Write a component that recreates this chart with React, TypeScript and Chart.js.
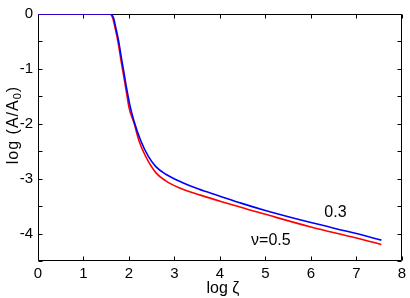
import React, { useEffect, useRef } from "react";
import { Chart, registerables } from "chart.js";

Chart.register(...registerables);

// Series: nu = 0.3 (blue)
const blueX = [0, 1.0, 1.6, 1.63, 1.66, 1.71, 1.77, 1.83, 1.89, 1.95, 2.02, 2.11, 2.26, 2.43, 2.59, 2.81, 3.17, 3.53, 3.97, 4.48, 5.0, 6.0, 7.0, 7.55];
const blueY = [0, 0, 0, -0.02, -0.07, -0.25, -0.48, -0.78, -1.07, -1.36, -1.66, -1.95, -2.31, -2.60, -2.78, -2.92, -3.07, -3.19, -3.31, -3.45, -3.58, -3.80, -4.0, -4.12];
// Series: nu = 0.5 (red)
const redX = [0, 1.0, 1.59, 1.62, 1.65, 1.70, 1.76, 1.82, 1.88, 1.94, 2.0, 2.12, 2.22, 2.37, 2.59, 2.81, 3.17, 3.57, 4.04, 4.62, 5.0, 6.0, 7.0, 7.55];
const redY = [0, 0, 0, -0.03, -0.09, -0.27, -0.51, -0.82, -1.11, -1.40, -1.70, -2.01, -2.31, -2.60, -2.89, -3.04, -3.19, -3.30, -3.42, -3.56, -3.65, -3.88, -4.08, -4.20];

// Axis ranges and ticks
const xMin = 0, xMax = 8, xStep = 1;
const yMin = -4.5, yMax = 0, yStep = 0.5;

// Text labels
const xTitle = "log ζ";
const yTitleMain = "log (A/A";
const yTitleSub = "0";
const yTitleEnd = ")";
const annoText = ["0.3", "ν=0.5"];
const annoX = [6.54, 5.12];
const annoY = [-3.62, -4.13];

const FONT = "'Liberation Sans', Arial, Helvetica, sans-serif";
const W = 410, H = 298;

export default function App() {
  const ref = useRef<HTMLCanvasElement | null>(null);
  useEffect(() => {
    if (!ref.current) return;
    const framePlugin = {
      id: "frame",
      beforeDatasetsDraw(chart: any) {
        const { ctx, chartArea: a, scales } = chart;
        const L = Math.round(a.left) + 0.5, R = Math.round(a.right) - 0.5;
        const T = Math.round(a.top) + 0.5, B = Math.round(a.bottom) - 0.5;
        ctx.save();
        ctx.strokeStyle = "#000";
        ctx.lineWidth = 1;
        ctx.beginPath();
        ctx.rect(L, T, R - L, B - T);
        const tl = 4;
        for (let v = xMin; v <= xMax + 1e-9; v += xStep) {
          const px = Math.round(scales.x.getPixelForValue(v)) + 0.5;
          ctx.moveTo(px, B); ctx.lineTo(px, B - tl);
          ctx.moveTo(px, T); ctx.lineTo(px, T + tl);
        }
        for (let v = yMin; v <= yMax + 1e-9; v += yStep) {
          const py = Math.round(scales.y.getPixelForValue(v)) + 0.5;
          ctx.moveTo(L, py); ctx.lineTo(L + tl, py);
          ctx.moveTo(R, py); ctx.lineTo(R - tl, py);
        }
        ctx.stroke();
        ctx.restore();
      },
      afterDraw(chart: any) {
        const { ctx, chartArea: a, scales } = chart;
        ctx.save();
        ctx.fillStyle = "#000";
        ctx.font = `16px ${FONT}`;
        // x title
        ctx.textAlign = "center";
        ctx.textBaseline = "alphabetic";
        ctx.fillText(xTitle, (a.left + a.right) / 2 + 3, 293);
        // annotations
        ctx.textBaseline = "middle";
        for (let i = 0; i < annoText.length; i++) {
          ctx.fillText(annoText[i], scales.x.getPixelForValue(annoX[i]), scales.y.getPixelForValue(annoY[i]));
        }
        // y title (rotated)
        ctx.translate(18, 125);
        ctx.rotate(-Math.PI / 2);
        ctx.textAlign = "left";
        ctx.textBaseline = "alphabetic";
        (ctx as any).letterSpacing = "1px";
        ctx.font = `16px ${FONT}`;
        const w1 = ctx.measureText(yTitleMain).width;
        ctx.font = `11px ${FONT}`;
        const w2 = ctx.measureText(yTitleSub).width;
        ctx.font = `16px ${FONT}`;
        const w3 = ctx.measureText(yTitleEnd).width;
        const total = w1 + w2 + w3;
        let x0 = -total / 2;
        ctx.fillText(yTitleMain, x0, 0);
        x0 += w1;
        ctx.font = `11px ${FONT}`;
        ctx.fillText(yTitleSub, x0, 3);
        x0 += w2;
        ctx.font = `16px ${FONT}`;
        ctx.fillText(yTitleEnd, x0, 0);
        ctx.restore();
      },
    };

    const chart = new Chart(ref.current, {
      type: "line",
      data: {
        datasets: [
          {
            label: "0.3",
            data: blueX.map((x, i) => ({ x, y: blueY[i] })),
            borderColor: "#0000ff",
            borderWidth: 1.6,
            pointRadius: 0,
            cubicInterpolationMode: "monotone",
            fill: false,
          },
          {
            label: "0.5",
            data: redX.map((x, i) => ({ x, y: redY[i] })),
            borderColor: "#ff0000",
            borderWidth: 1.6,
            pointRadius: 0,
            cubicInterpolationMode: "monotone",
            fill: false,
          },
        ],
      },
      options: {
        responsive: false,
        devicePixelRatio: 1,
        animation: false,
        layout: { padding: { top: 6, right: 6, left: 0, bottom: 0 } },
        plugins: { legend: { display: false }, tooltip: { enabled: false } },
        scales: {
          x: {
            type: "linear",
            min: xMin,
            max: xMax,
            grid: { display: false, drawTicks: false },
            border: { display: false },
            ticks: {
              stepSize: xStep,
              autoSkip: false,
              maxRotation: 0,
              padding: 4,
              color: "#000",
              font: { family: FONT, size: 15 },
              callback: (v: any) => String(v),
            },
            afterFit: (s: any) => { s.height = 37; },
          },
          y: {
            type: "linear",
            min: yMin,
            max: yMax,
            grid: { display: false, drawTicks: false },
            border: { display: false },
            ticks: {
              stepSize: yStep,
              autoSkip: false,
              padding: 5,
              color: "#000",
              font: { family: FONT, size: 15 },
              callback: (v: any) => (Number.isInteger(v) ? String(v) : ""),
            },
            afterFit: (s: any) => { s.width = 38; },
          },
        },
      },
      plugins: [framePlugin],
    } as any);
    return () => chart.destroy();
  }, []);
  return (
    <div style={{ position: "fixed", left: 0, top: 0, width: W, height: H, background: "#fff" }}>
      <canvas ref={ref} width={W} height={H} style={{ width: W, height: H, display: "block" }} />
    </div>
  );
}
